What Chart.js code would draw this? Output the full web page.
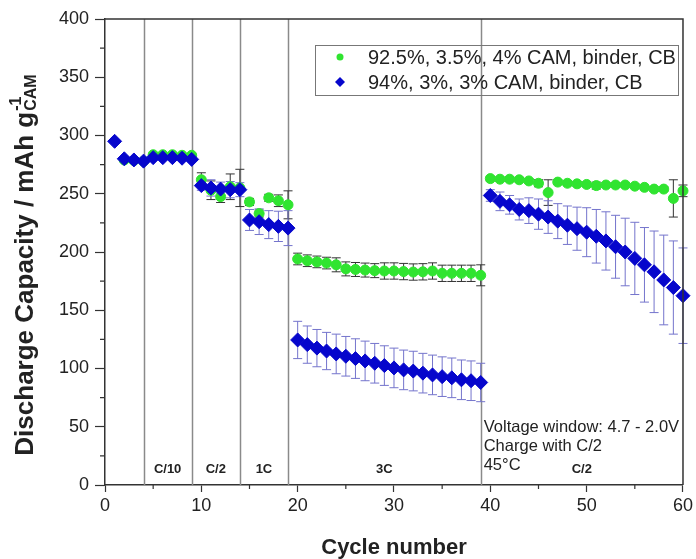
<!DOCTYPE html>
<html>
<head>
<meta charset="utf-8">
<script src="https://cdn.jsdelivr.net/npm/chart.js@4.4.1/dist/chart.umd.min.js"></script>
<style>
  html, body { margin: 0; padding: 0; background: #fff; }
</style>
</head>
<body>
<canvas id="chartCanvas" width="696" height="559"></canvas>
<script>
const cycles = [1,2,3,4,5,6,7,8,9,10,11,12,13,14,15,16,17,18,19,20,
  21,22,23,24,25,26,27,28,29,30,31,32,33,34,35,36,37,38,39,40,
  41,42,43,44,45,46,47,48,49,50,51,52,53,54,55,56,57,58,59,60];

// 92.5%, 3.5%, 4% (green)
const capGreen = [null,279,278.5,278,283.5,283.5,283.5,283,283,
  262,253,247.5,256,255, 243,233,246.5,244,240.5,
  194,192.5,191.5,190.5,189,185.5,185,184.5,184,183.7,183.7,183.2,182.8,183,183.7,181.7,181.7,181.7,181.7,180,
  263,262.5,262.5,262,261,259,251,260,259,258.5,258,257,257.5,257.5,257.5,256.5,255.5,254,254,246,252.5];
const errGreen = [0,1.5,1.5,1.5,1.5,1.5,1.5,1.5,1.5,
  6,8,5,11,16, 3,3,3,5,12,
  5,5,5,5,6,6,6,6,6,7,7,7,7,7,7,7,7,7,7,9,
  2,2,2,2,2,3,11,2,2,2,2,3,2,2,2,2,2,2,2,16,5];

// 94%, 3%, 3% (blue)
const capBlue = [295,280,279,278,281,281,281,280.5,279.5,
  257,255,254,253.5,253.5, 227.5,226,223.5,222,220.5,
  124.5,120.5,117.5,115,112.5,110.5,108.5,106.5,104.5,102.5,100.5,98.8,97.8,96,94.5,93,92,90.3,89.5,88,
  248.5,243.5,240.5,236.5,235.5,232.5,230,226.5,223,220,217,213.5,209.5,204.5,200,194.5,189,183,176,169.5,162.5];
const errBlue = [1.5,1.5,1.5,1.5,1.5,1.5,1.5,1.5,1.5,
  4,7,6,7,6, 9,11,12,13,15,
  16,16,16,16,17,17,17,17,17,17,17,17,17,17,17,17,17,17,17,16.5,
  5,8,8,9,11,13,14,15,16.5,18.5,21,23,25,27,29,31,32,35,38.5,40,41];

const seriesLabels = ['92.5%, 3.5%, 4% CAM, binder, CB', '94%, 3%, 3% CAM, binder, CB'];
const rateSwitches = [4, 9, 14, 19, 39];
const rateLabels = ['C/10', 'C/2', '1C', '3C', 'C/2'];
const rateLabelAt = [6.5, 11.5, 16.5, 29, 49.5];
const notes = ['Voltage window: 4.7 - 2.0V', 'Charge with C/2', '45°C'];

const FONT = "'Liberation Sans', Arial, sans-serif";
const GREEN = '#30e430';
const BLUE = '#0606cc';

function toPoints(vals) {
  return cycles.map((c, i) => ({ x: c, y: vals[i] }));
}

const errorBars = {
  id: 'errorBars',
  beforeDatasetsDraw(chart) {
    const ctx = chart.ctx;
    const xs = chart.scales.x, ys = chart.scales.y;
    const area = chart.chartArea;
    // rate change lines
    ctx.save();
    ctx.strokeStyle = '#8a8a8a';
    ctx.lineWidth = 1.5;
    rateSwitches.forEach(c => {
      const px = Math.round(xs.getPixelForValue(c)) + 0.5;
      ctx.beginPath();
      ctx.moveTo(px, area.top);
      ctx.lineTo(px, area.bottom);
      ctx.stroke();
    });
    const sets = [[capGreen, errGreen, '#333'], [capBlue, errBlue, '#7474cc']];
    sets.forEach(([vals, errs, col]) => {
      ctx.strokeStyle = col;
      ctx.lineWidth = 1;
      vals.forEach((v, i) => {
        if (v === null || !errs[i]) return;
        const px = xs.getPixelForValue(cycles[i]);
        const y1 = ys.getPixelForValue(v + errs[i]);
        const y2 = ys.getPixelForValue(v - errs[i]);
        ctx.beginPath();
        ctx.moveTo(px, y1); ctx.lineTo(px, y2);
        ctx.moveTo(px - 4.5, y1); ctx.lineTo(px + 4.5, y1);
        ctx.moveTo(px - 4.5, y2); ctx.lineTo(px + 4.5, y2);
        ctx.stroke();
      });
    });
    ctx.restore();
  },
  afterDatasetsDraw(chart) {
    const ctx = chart.ctx;
    const xs = chart.scales.x, ys = chart.scales.y;
    const area = chart.chartArea;
    ctx.save();
    // frame top + right
    ctx.strokeStyle = '#333';
    ctx.lineWidth = 1.5;
    ctx.beginPath();
    ctx.moveTo(area.left, area.top);
    ctx.lineTo(area.right, area.top);
    ctx.lineTo(area.right, area.bottom);
    ctx.stroke();
    // minor ticks
    ctx.lineWidth = 1.2;
    ctx.beginPath();
    for (let v = 25; v < 400; v += 50) {
      const py = ys.getPixelForValue(v);
      ctx.moveTo(area.left - 5, py); ctx.lineTo(area.left, py);
    }
    for (let v = 5; v < 60; v += 10) {
      const px = xs.getPixelForValue(v);
      ctx.moveTo(px, area.bottom); ctx.lineTo(px, area.bottom + 4);
    }
    ctx.stroke();

    // rate labels
    ctx.fillStyle = '#222';
    ctx.font = 'bold 13px ' + FONT;
    ctx.textAlign = 'center';
    ctx.textBaseline = 'middle';
    rateLabels.forEach((t, i) => {
      ctx.fillText(t, xs.getPixelForValue(rateLabelAt[i]), 469);
    });

    // condition notes
    ctx.font = '16.5px ' + FONT;
    ctx.textAlign = 'left';
    notes.forEach((t, i) => {
      ctx.fillText(t, xs.getPixelForValue(39) + 3, 427 + i * 19);
    });

    // legend
    ctx.strokeStyle = '#777';
    ctx.lineWidth = 1;
    ctx.strokeRect(315.5, 45.5, 363, 50);
    const ds = chart.data.datasets;
    ctx.font = '20px ' + FONT;
    [57, 82].forEach((ly, i) => {
      ctx.fillStyle = ds[i].backgroundColor;
      ctx.beginPath();
      if (i === 0) {
        ctx.arc(340, ly, 3.5, 0, Math.PI * 2);
      } else {
        ctx.moveTo(340, ly - 5); ctx.lineTo(345, ly); ctx.lineTo(340, ly + 5); ctx.lineTo(335, ly);
        ctx.closePath();
      }
      ctx.fill();
      ctx.fillStyle = '#222';
      ctx.fillText(seriesLabels[i], 368, ly + 1);
    });

    // x title
    ctx.font = 'bold 22px ' + FONT;
    ctx.textAlign = 'center';
    ctx.fillText('Cycle number', (area.left + area.right) / 2, 548);

    // y title with super/subscript
    ctx.translate(26, 265);
    ctx.rotate(-Math.PI / 2);
    const main = 'Discharge Capacity / mAh g';
    ctx.font = 'bold 26px ' + FONT;
    const wMain = ctx.measureText(main).width;
    ctx.font = 'bold 16px ' + FONT;
    const wScript = Math.max(ctx.measureText('-1').width, ctx.measureText('CAM').width);
    const x0 = -(wMain + wScript + 1) / 2;
    ctx.textAlign = 'left';
    ctx.font = 'bold 26px ' + FONT;
    ctx.fillText(main, x0, 0);
    ctx.font = 'bold 16px ' + FONT;
    ctx.fillText('-1', x0 + wMain + 1, -9);
    ctx.fillText('CAM', x0 + wMain + 1, 6);
    ctx.restore();
  }
};

const ctx = document.getElementById('chartCanvas').getContext('2d');
const chart = new Chart(ctx, {
  type: 'scatter',
  data: {
    datasets: [{
      label: seriesLabels[0],
      data: toPoints(capGreen),
      pointStyle: 'circle',
      pointRadius: 5,
      backgroundColor: GREEN,
      borderColor: GREEN,
      borderWidth: 1,
      order: 2,
      clip: false
    }, {
      label: seriesLabels[1],
      data: toPoints(capBlue),
      pointStyle: 'rectRot',
      pointRadius: 7,
      backgroundColor: BLUE,
      borderColor: BLUE,
      borderWidth: 1,
      order: 1,
      clip: false
    }]
  },
  options: {
    responsive: false,
    animation: false,
    devicePixelRatio: 1,
    layout: { padding: { left: 0, top: 19, right: 13, bottom: 0 } },
    plugins: {
      legend: { display: false },
      tooltip: { enabled: false }
    },
    scales: {
      x: {
        type: 'linear',
        min: 0,
        max: 60,
        afterFit(scale) { scale.height = 74; },
        ticks: { stepSize: 10, autoSkip: false, maxRotation: 0, padding: 3, color: '#222', font: { family: FONT, size: 18 } },
        grid: { drawOnChartArea: false, tickLength: 7, color: '#333', tickWidth: 1.2 },
        border: { color: '#333', width: 1.5 }
      },
      y: {
        min: 0,
        max: 400,
        afterFit(scale) { scale.width = 105; },
        ticks: { stepSize: 50, autoSkip: false, padding: 6, color: '#222', font: { family: FONT, size: 18 } },
        grid: { drawOnChartArea: false, tickLength: 10, color: '#333', tickWidth: 1.2 },
        border: { color: '#333', width: 1.5 }
      }
    }
  },
  plugins: [errorBars]
});
</script>
</body>
</html>
